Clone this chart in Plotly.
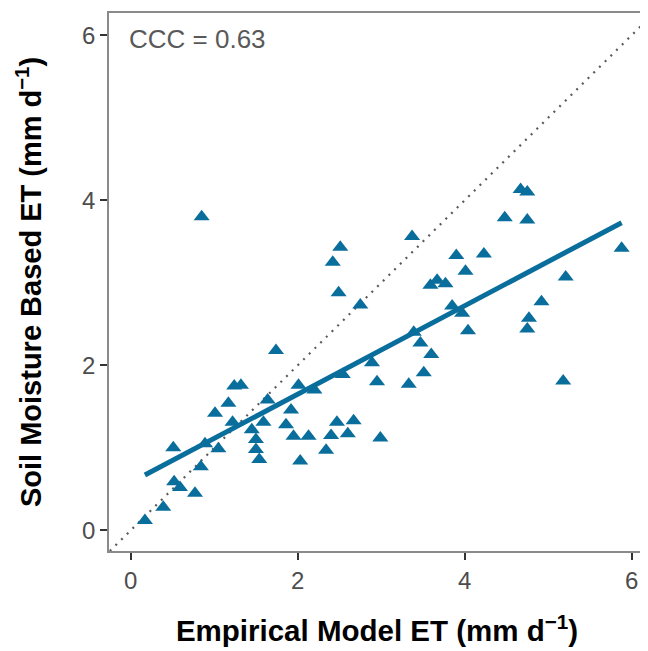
import numpy as np
import plotly.graph_objects as go

empirical_et = [0.17, 0.39, 0.52, 0.59, 0.77, 0.84, 0.51, 0.89, 1.05, 1.01,
                1.17, 1.22, 1.24, 1.32, 1.45, 1.50, 1.50, 1.54, 1.59, 1.64,
                1.74, 1.86, 1.92, 1.95, 2.01, 2.03, 2.13, 2.20, 2.34, 2.40,
                2.47, 2.54, 2.60, 2.67, 2.42, 2.51, 2.49, 2.75, 2.89, 2.95,
                2.99, 3.33, 3.37, 3.39, 3.47, 3.51, 3.60, 3.59, 3.67, 3.77,
                3.85, 3.90, 3.97, 4.01, 4.04, 4.23, 4.48, 4.67, 4.75, 4.75,
                4.75, 4.77, 4.92, 5.18, 5.21, 5.88, 0.85]
soil_moisture_et = [0.12, 0.28, 0.59, 0.52, 0.45, 0.77, 1.00, 1.05, 0.99, 1.42,
                    1.54, 1.31, 1.75, 1.76, 1.22, 1.10, 0.98, 0.86, 1.31, 1.58,
                    2.18, 1.28, 1.46, 1.14, 1.76, 0.84, 1.14, 1.70, 0.97, 1.15,
                    1.31, 1.89, 1.17, 1.33, 3.25, 3.43, 2.88, 2.73, 2.03, 1.80,
                    1.12, 1.77, 3.56, 2.40, 2.27, 1.91, 2.13, 2.97, 3.03, 2.99,
                    2.72, 3.33, 2.63, 3.14, 2.42, 3.35, 3.79, 4.13, 4.10, 3.76,
                    2.44, 2.57, 2.77, 1.81, 3.07, 3.42, 3.80]
x_ticks = [0, 2, 4, 6]
y_ticks = [0, 2, 4, 6]
ccc_label = "CCC = 0.63"

x_range = [-0.26, 6.16]
y_range = [-0.25, 6.27]

blue = "#0A6E9C"
font_family = "Liberation Sans, Arial"

x = np.array(empirical_et)
y = np.array(soil_moisture_et)
slope, intercept = np.polyfit(x, y, 1)
fit_x = np.array([x.min(), x.max()])
fit_y = intercept + slope * fit_x

fig = go.Figure()
# 1:1 line
fig.add_trace(go.Scatter(x=[-1, 7], y=[-1, 7], mode="lines",
                         line=dict(color="#5a5a5a", width=2.2, dash="2px,6px"),
                         hoverinfo="skip", showlegend=False))
fig.add_trace(go.Scatter(x=x, y=y, mode="markers",
                         marker=dict(symbol="triangle-up", size=14, color=blue),
                         showlegend=False))
fig.add_trace(go.Scatter(x=fit_x, y=fit_y, mode="lines",
                         line=dict(color=blue, width=5), showlegend=False))

fig.add_annotation(x=-0.04, y=5.95, xref="x", yref="y", text=ccc_label,
                   showarrow=False, xanchor="left", yanchor="middle",
                   font=dict(family=font_family, size=26, color="#595959"))

axis_common = dict(showgrid=False, zeroline=False, showline=True, mirror=True,
                   linecolor="#8a8a8a", linewidth=1.6, ticks="outside",
                   ticklen=7, tickwidth=2, tickcolor="#333333", automargin=False,
                   tickfont=dict(family=font_family, size=24, color="#4d4d4d"))

fig.update_xaxes(range=x_range, tickvals=x_ticks, **axis_common,
                 title=dict(text="<b>Empirical Model ET (mm d<sup>−1</sup>)</b>", standoff=28,
                            font=dict(family=font_family, size=29.5, color="black")))
fig.update_yaxes(range=y_range, tickvals=y_ticks, **axis_common,
                 title=dict(text="<b>Soil Moisture Based ET (mm d<sup>−1</sup>)</b>", standoff=32,
                            font=dict(family=font_family, size=29, color="black")))

fig.update_layout(width=640, height=643, plot_bgcolor="white", paper_bgcolor="white",
                  margin=dict(l=101, r=3, t=5, b=100), showlegend=False)

fig.write_html("out.html")
